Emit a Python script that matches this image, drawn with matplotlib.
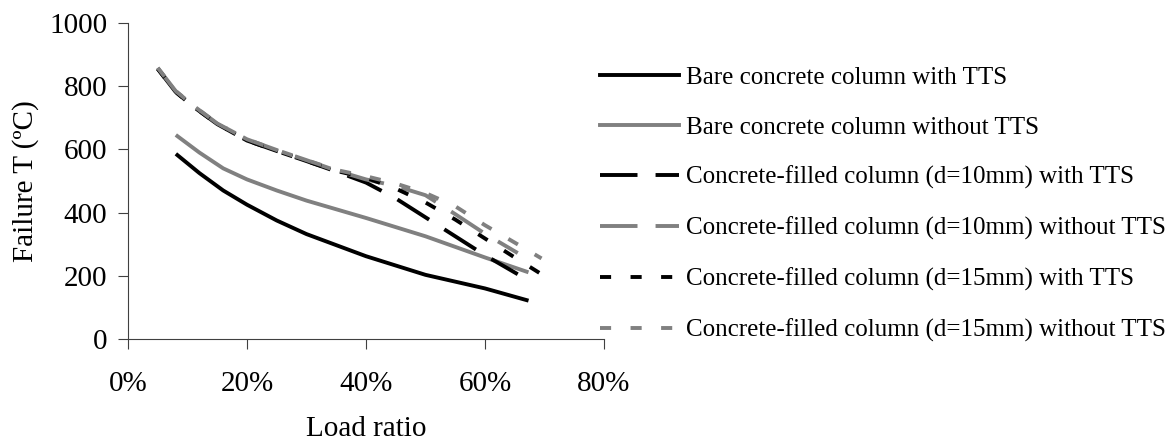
import numpy as np
import matplotlib
matplotlib.use("Agg")
import matplotlib.pyplot as plt

plt.rcParams['font.family'] = ['Liberation Serif', 'DejaVu Serif']
plt.rcParams['lines.scale_dashes'] = False

# load ratio (%) and failure temperature (ºC)
x_bare = [8.3, 12, 16, 20, 25, 30, 40, 50, 60, 67]
bare_tts = [582, 525, 470, 425, 375, 332, 262, 203, 160, 123]
bare_no_tts = [642, 590, 540, 505, 470, 438, 383, 325, 258, 213]

x_d10 = [5, 8, 11, 15, 20, 25, 30, 35, 40, 45, 50, 55, 60, 65.5]
d10_tts = [855, 782, 735, 680, 628, 595, 563, 530, 495, 445, 385, 325, 265, 205]
d10_no_tts = [858, 785, 738, 682, 632, 598, 566, 533, 505, 484, 455, 395, 333, 272]

x_d15 = [5, 8, 11, 15, 20, 25, 30, 35, 40, 45, 50, 55, 60, 65, 69.5]
d15_tts = [855, 782, 735, 680, 628, 595, 563, 532, 510, 476, 432, 378, 318, 258, 205]
d15_no_tts = [858, 785, 738, 682, 632, 598, 566, 535, 515, 492, 462, 420, 360, 305, 255]

labels = ["Bare concrete column with TTS",
          "Bare concrete column without TTS",
          "Concrete-filled column (d=10mm) with TTS",
          "Concrete-filled column (d=10mm) without TTS",
          "Concrete-filled column (d=15mm) with TTS",
          "Concrete-filled column (d=15mm) without TTS"]

gray = '#808080'
lw = 2.8
long_dash = (27, 13)
short_dash = (8, 14)

fig = plt.figure(figsize=(11.74, 4.42), dpi=100)
ax = fig.add_axes([128 / 1174, 1 - 339 / 442, 476 / 1174, 316 / 442])

ax.plot(np.array(x_bare) / 100, bare_tts, color='black', lw=lw, label=labels[0])
ax.plot(np.array(x_bare) / 100, bare_no_tts, color=gray, lw=lw, label=labels[1])
ax.plot(np.array(x_d10) / 100, d10_tts, color='black', lw=lw, dashes=long_dash, label=labels[2])
ax.plot(np.array(x_d10) / 100, d10_no_tts, color=gray, lw=lw, dashes=long_dash, label=labels[3])
ax.plot(np.array(x_d15) / 100, d15_tts, color='black', lw=lw, dashes=short_dash, label=labels[4])
ax.plot(np.array(x_d15) / 100, d15_no_tts, color=gray, lw=lw, dashes=short_dash, label=labels[5])

ax.set_xlim(0, 0.8)
ax.set_ylim(0, 1000)
ax.set_xticks([0, 0.2, 0.4, 0.6, 0.8])
ax.set_xticklabels(["0%", "20%", "40%", "60%", "80%"])
ax.set_yticks([0, 200, 400, 600, 800, 1000])

ax.spines['top'].set_visible(False)
ax.spines['right'].set_visible(False)
for s in ['left', 'bottom']:
    ax.spines[s].set_linewidth(0.8)
    ax.spines[s].set_color('#404040')
ax.tick_params(axis='both', direction='out', length=7, width=0.8, color='#404040', labelsize=21)
ax.tick_params(axis='y', pad=8)
ax.tick_params(axis='x', pad=16)

ax.set_xlabel("Load ratio", fontsize=21, labelpad=14)
ax.set_ylabel("Failure T (ºC)", fontsize=21, labelpad=7)

ax.legend(loc='upper left', bbox_to_anchor=(600 / 1174, 1 - 66 / 442),
          bbox_transform=fig.transFigure, frameon=False, fontsize=18,
          borderpad=0, borderaxespad=0, handlelength=3.16, handletextpad=0.28,
          labelspacing=1.1)

fig.savefig("out.png", dpi=100)
